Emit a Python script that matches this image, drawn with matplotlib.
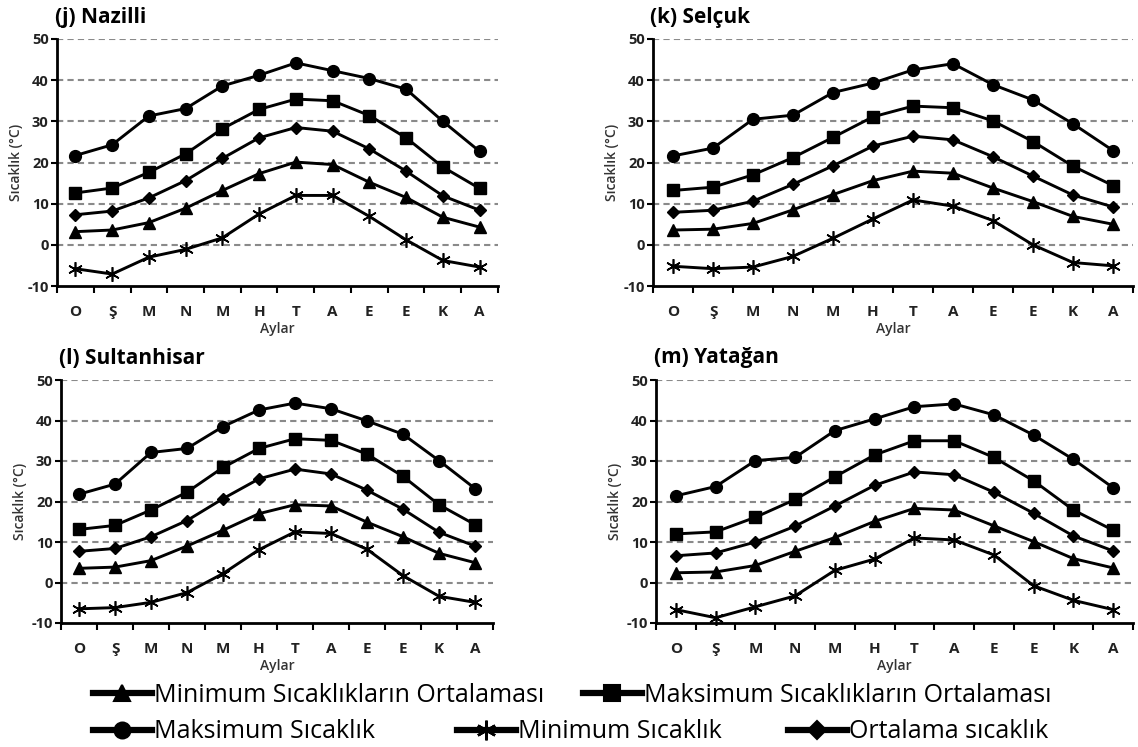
import matplotlib
matplotlib.use("Agg")
import matplotlib.pyplot as plt
from matplotlib.lines import Line2D
import numpy as np

plt.rcParams['font.family'] = ['Open Sans', 'DejaVu Sans']
plt.rcParams['axes.unicode_minus'] = False

# month initials (Ocak ... Aralık)
months = ['O', 'Ş', 'M', 'N', 'M', 'H', 'T', 'A', 'E', 'E', 'K', 'A']

# (j) Nazilli
naz_max = [21.7, 24.3, 31.3, 33.1, 38.6, 41.2, 44.2, 42.3, 40.4, 37.8, 30.0, 22.7]
naz_maxavg = [12.6, 13.8, 17.6, 22.1, 28.2, 32.9, 35.4, 35.0, 31.4, 26.0, 18.9, 13.7]
naz_avg = [7.3, 8.2, 11.4, 15.6, 21.0, 26.0, 28.5, 27.6, 23.3, 17.9, 11.9, 8.4]
naz_minavg = [3.2, 3.6, 5.4, 8.9, 13.2, 17.3, 20.1, 19.5, 15.2, 11.5, 6.7, 4.3]
naz_min = [-5.8, -7.1, -3.0, -1.1, 1.7, 7.5, 12.0, 12.0, 6.9, 1.2, -3.8, -5.4]

# (k) Selçuk
sel_max = [21.6, 23.5, 30.5, 31.5, 37.0, 39.3, 42.5, 44.0, 38.9, 35.2, 29.4, 22.9]
sel_maxavg = [13.2, 14.0, 17.0, 21.2, 26.1, 31.1, 33.7, 33.3, 30.1, 25.1, 19.1, 14.4]
sel_avg = [7.9, 8.4, 10.6, 14.7, 19.2, 24.0, 26.4, 25.5, 21.4, 16.7, 12.1, 9.2]
sel_minavg = [3.6, 3.8, 5.2, 8.5, 12.2, 15.6, 17.9, 17.4, 13.8, 10.5, 6.9, 5.0]
sel_min = [-5.2, -5.8, -5.4, -2.8, 1.6, 6.3, 10.9, 9.4, 5.9, 0.0, -4.3, -5.1]

# (l) Sultanhisar
sul_max = [21.8, 24.3, 32.1, 33.1, 38.5, 42.6, 44.3, 42.9, 39.9, 36.6, 30.1, 23.2]
sul_maxavg = [13.1, 14.1, 17.9, 22.3, 28.4, 33.1, 35.5, 35.1, 31.7, 26.2, 19.2, 14.3]
sul_avg = [7.7, 8.4, 11.3, 15.3, 20.7, 25.6, 28.0, 26.8, 22.8, 18.1, 12.4, 9.0]
sul_minavg = [3.5, 3.8, 5.4, 9.0, 12.9, 17.0, 19.2, 18.9, 14.9, 11.3, 7.2, 4.9]
sul_min = [-6.5, -6.2, -4.9, -2.5, 2.2, 8.1, 12.5, 12.1, 8.2, 1.7, -3.4, -4.9]

# (m) Yatağan
yat_max = [21.4, 23.7, 30.1, 30.9, 37.5, 40.4, 43.4, 44.1, 41.4, 36.4, 30.4, 23.4]
yat_maxavg = [12.0, 12.5, 16.1, 20.5, 26.1, 31.5, 35.0, 35.0, 30.9, 25.1, 17.9, 12.9]
yat_avg = [6.6, 7.3, 10.0, 13.9, 18.9, 24.0, 27.3, 26.6, 22.3, 17.1, 11.5, 7.8]
yat_minavg = [2.4, 2.6, 4.2, 7.7, 11.1, 15.1, 18.3, 17.9, 14.0, 10.1, 5.9, 3.6]
yat_min = [-6.7, -8.7, -6.0, -3.3, 3.0, 5.8, 11.0, 10.5, 6.8, -0.8, -4.4, -6.7]

titles = ['(j) Nazilli', '(k) Selçuk', '(l) Sultanhisar', '(m) Yatağan']
stations = [
    (naz_minavg, naz_maxavg, naz_max, naz_min, naz_avg),
    (sel_minavg, sel_maxavg, sel_max, sel_min, sel_avg),
    (sul_minavg, sul_maxavg, sul_max, sul_min, sul_avg),
    (yat_minavg, yat_maxavg, yat_max, yat_min, yat_avg),
]
series_names = ['Minimum Sıcaklıkların Ortalaması', 'Maksimum Sıcaklıkların Ortalaması',
                'Maksimum Sıcaklık', 'Minimum Sıcaklık', 'Ortalama sıcaklık']

star = (6, 2, 0)
styles = [
    dict(marker='^', ms=9),
    dict(marker='s', ms=9),
    dict(marker='o', ms=8.5),
    dict(marker=star, ms=10.5, mfc='none', mew=1.2),
    dict(marker='D', ms=6.5),
]

W, H = 1138, 747
fig = plt.figure(figsize=(W / 100, H / 100), dpi=100)

# axes boxes in pixels: left, right, top, bottom
boxes = [(57, 498, 39, 286), (653, 1133, 39, 286),
         (61, 493, 380, 623), (656, 1133, 380, 623)]
title_pos = [(55, 17), (650, 17), (59, 358), (654, 358)]

x = np.arange(len(months)) + 0.5
for i, (l, r, t, b) in enumerate(boxes):
    ax = fig.add_axes([l / W, 1 - b / H, (r - l) / W, (b - t) / H])
    for vals, st in zip(stations[i], styles):
        ax.plot(x, vals, color='black', lw=2.1, mec='black', mfc=st.get('mfc', 'black'),
                marker=st['marker'], ms=st['ms'], mew=st.get('mew', 1), clip_on=False, zorder=3)
    ax.set_xlim(0, 12)
    ax.set_ylim(-10, 50)
    ax.set_yticks(range(-10, 51, 10))
    ax.set_xticks(range(13))
    ax.set_xticklabels([])
    ax.set_xticks(x, minor=True)
    ax.set_xticklabels(months, minor=True, fontsize=11, fontweight='bold', color='#222222')
    ax.tick_params(axis='x', which='minor', length=0, pad=14)
    ax.tick_params(axis='x', which='major', length=5, width=1.5, direction='out')
    ax.tick_params(axis='y', length=4, width=1.5, labelsize=10.5, pad=2, labelcolor='#222222')
    for lab in ax.get_yticklabels():
        lab.set_fontweight('bold')
    for yv in range(0, 51, 10):
        ax.axhline(yv, color='#8a8a8a', lw=1.5, ls=(0, (3, 2)), zorder=1)
    for s in ['top', 'right']:
        ax.spines[s].set_visible(False)
    ax.spines['left'].set_linewidth(2)
    ax.spines['bottom'].set_linewidth(2)
    ax.set_ylabel('Sıcaklık (°C)', fontsize=10, fontweight='semibold', color='#333333', labelpad=3)
    ax.set_xlabel('Aylar', fontsize=10, fontweight='semibold', color='#333333', labelpad=2)
    tx, ty = title_pos[i]
    fig.text(tx / W, 1 - ty / H, titles[i], fontsize=15, fontweight='bold', va='center', ha='left')

# legend built from the series styles
def handle(st):
    return Line2D([], [], color='black', lw=4.5, marker=st['marker'], ms=st['ms'] * 1.35,
                  mfc=st.get('mfc', 'black'), mec='black', mew=st.get('mew', 1) * 1.5)

row1 = [(0, 93), (1, 583)]
row2 = [(2, 93), (3, 457), (4, 788)]
for row, yy in [(row1, 695), (row2, 732)]:
    for k, xx in row:
        fig.legend([handle(styles[k])], [series_names[k]], loc='center left',
                   bbox_to_anchor=(xx / W, 1 - yy / H), frameon=False, fontsize=18,
                   handlelength=2.35, handletextpad=0.1, borderaxespad=0, borderpad=0)

fig.savefig('out.png', dpi=100)
